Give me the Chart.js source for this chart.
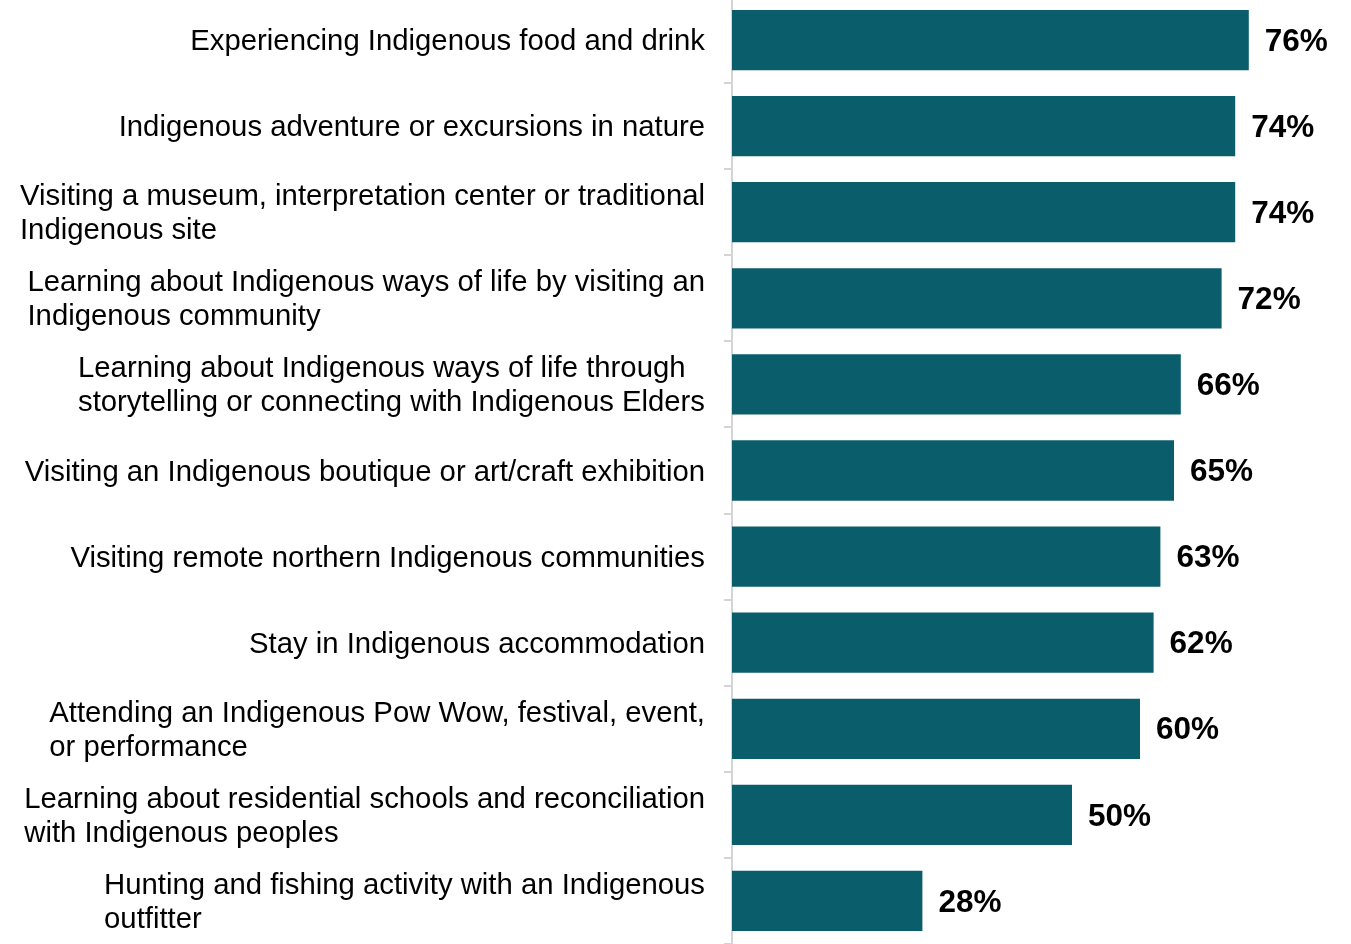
<!DOCTYPE html>
<html lang="en">
<head>
<meta charset="utf-8">
<title>Indigenous tourism activities</title>
<script src="https://cdn.jsdelivr.net/npm/chart.js@4.4.1/dist/chart.umd.min.js"></script>
<style>
  html, body {
    margin: 0;
    padding: 0;
    background: #ffffff;
    overflow: hidden;
  }
  .chart-wrap {
    position: absolute;
    left: 0;
    top: -3px;
    width: 1351px;
    height: 947px;
  }
</style>
</head>
<body>
<div class="chart-wrap">
  <canvas id="activityChart"></canvas>
</div>
<script>
// Chart data
const categories = [
  ['Experiencing Indigenous food and drink'],
  ['Indigenous adventure or excursions in nature'],
  ['Visiting a museum, interpretation center or traditional', 'Indigenous site'],
  ['Learning about Indigenous ways of life by visiting an', 'Indigenous community'],
  ['Learning about Indigenous ways of life through', 'storytelling or connecting with Indigenous Elders'],
  ['Visiting an Indigenous boutique or art/craft exhibition'],
  ['Visiting remote northern Indigenous communities'],
  ['Stay in Indigenous accommodation'],
  ['Attending an Indigenous Pow Wow, festival, event,', 'or performance'],
  ['Learning about residential schools and reconciliation', 'with Indigenous peoples'],
  ['Hunting and fishing activity with an Indigenous', 'outfitter']
];
const shares = [76, 74, 74, 72, 66, 65, 63, 62, 60, 50, 28];

const BAR_COLOR = '#0a5d6b';
const AXIS_COLOR = '#d4d4d4';
const FONT = "'Liberation Sans', Arial, sans-serif";

// Category labels: block right-aligned to the axis, lines left-aligned inside
const categoryLabels = {
  id: 'categoryLabels',
  afterDraw(chart) {
    const ctx = chart.ctx;
    const yScale = chart.scales.y;
    const rightEdge = chart.chartArea.left - 27;
    const lineHeight = 34;

    ctx.save();
    ctx.font = '29.3px ' + FONT;
    ctx.fillStyle = '#000000';
    ctx.textAlign = 'left';
    ctx.textBaseline = 'middle';

    categories.forEach((lines, i) => {
      const cy = yScale.getPixelForValue(i) + 2;
      const widest = Math.max(...lines.map(l => ctx.measureText(l).width));
      const x = rightEdge - widest;
      const y0 = cy - (lines.length - 1) * lineHeight / 2;
      lines.forEach((line, j) => {
        ctx.fillText(line, x, y0 + j * lineHeight);
      });
    });
    ctx.restore();
  }
};

// Value labels at the end of each bar
const valueLabels = {
  id: 'valueLabels',
  afterDatasetsDraw(chart) {
    const ctx = chart.ctx;
    const meta = chart.getDatasetMeta(0);

    ctx.save();
    ctx.font = 'bold 31.5px ' + FONT;
    ctx.fillStyle = '#000000';
    ctx.textAlign = 'left';
    ctx.textBaseline = 'middle';
    meta.data.forEach((bar, i) => {
      ctx.fillText(shares[i] + '%', bar.x + 16, bar.y + 2);
    });
    ctx.restore();
  }
};

const ctx = document.getElementById('activityChart').getContext('2d');

new Chart(ctx, {
  type: 'bar',
  data: {
    labels: categories.map(l => l.join(' ')),
    datasets: [{
      data: shares,
      backgroundColor: BAR_COLOR,
      borderWidth: 0,
      categoryPercentage: 1,
      barPercentage: 0.7
    }]
  },
  options: {
    indexAxis: 'y',
    responsive: true,
    maintainAspectRatio: false,
    animation: false,
    layout: { padding: { top: 0, bottom: 0, left: 0, right: 7 } },
    plugins: {
      legend: { display: false },
      tooltip: { enabled: false }
    },
    scales: {
      x: {
        display: false,
        min: 0,
        max: 90
      },
      y: {
        afterFit: scale => { scale.width = 732; },
        ticks: { display: false },
        grid: {
          offset: true,
          drawOnChartArea: false,
          drawTicks: true,
          tickLength: 8,
          tickColor: AXIS_COLOR,
          lineWidth: 2
        },
        border: {
          display: true,
          color: AXIS_COLOR,
          width: 2
        }
      }
    }
  },
  plugins: [categoryLabels, valueLabels]
});
</script>
</body>
</html>
